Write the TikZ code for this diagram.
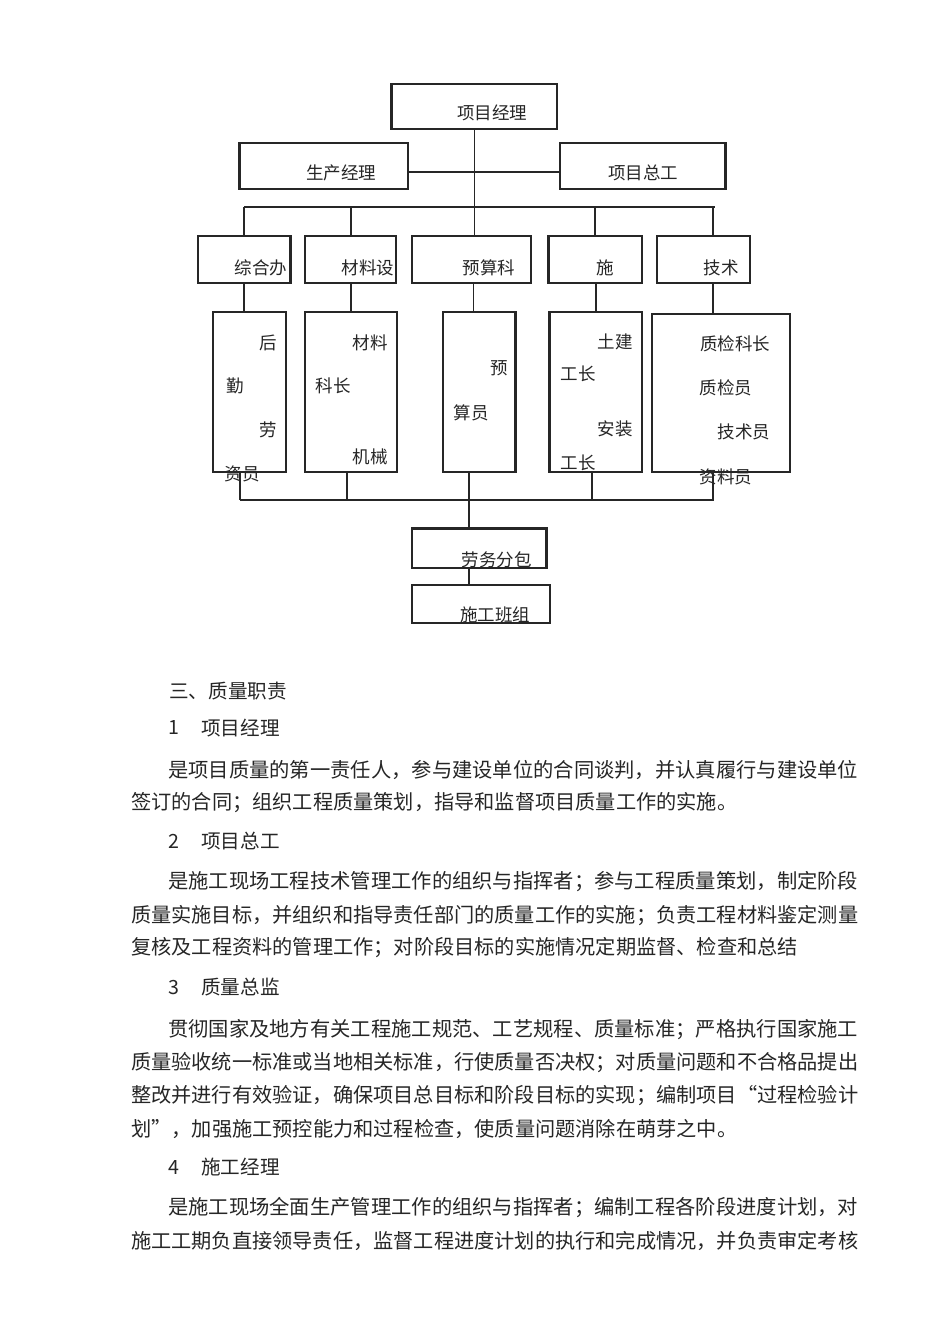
\documentclass[tikz,border=0pt]{standalone}
\usepackage{graphicx}
\usepackage{fontspec}
\setmainfont{Noto Sans CJK SC}
\newfontfamily\fwfont[RawFeature=+fwid]{Noto Sans CJK SC}
\definecolor{linec}{HTML}{262626}
\definecolor{txtc}{HTML}{262626}
\newcommand{\jline}[2]{\resizebox{#1}{\height}{#2}}
\tikzset{
  box/.style={draw=linec, line width=1.2pt, inner sep=0pt},
  thk/.style={draw=linec, line width=2.3pt},
  conn/.style={draw=linec, line width=1.2pt},
  lbl/.style={font=\fontsize{17.5}{17.5}\selectfont, text=txtc, inner sep=0pt},
  body/.style={font=\fontsize{20.2}{20.2}\selectfont, text=txtc, inner sep=0pt, anchor=west},
  head/.style={font=\fontsize{19.6}{19.6}\selectfont, text=txtc, inner sep=0pt, anchor=west},
}
\begin{document}
\begin{tikzpicture}[x=1pt,y=-1pt]
\path[use as bounding box, fill=white] (0,0) rectangle (950,1344);

% ---------- boxes ----------
\node[box, minimum width=165pt, minimum height=45pt] (pm) at (474.5,106.5) {};
\node[box, minimum width=168pt, minimum height=46pt] (sc) at (324,166) {};
\node[box, minimum width=165pt, minimum height=46pt] (zg) at (642.5,166) {};

\node[box, minimum width=92pt, minimum height=47pt] (zh) at (244,259.5) {};
\node[box, minimum width=91pt, minimum height=47pt] (cl) at (350.5,259.5) {};
\node[box, minimum width=119pt, minimum height=47pt] (ys) at (471.5,259.5) {};
\node[box, minimum width=93pt, minimum height=47pt] (sg) at (595.5,259.5) {};
\node[box, minimum width=93pt, minimum height=47pt] (js) at (703.5,259.5) {};

\node[box, minimum width=73pt, minimum height=160pt] (hq) at (249.5,392) {};
\node[box, minimum width=92pt, minimum height=160pt] (clk) at (351,392) {};
\node[box, minimum width=72pt, minimum height=160pt] (ysy) at (479,392) {};
\node[box, minimum width=92pt, minimum height=160pt] (gz) at (596,392) {};
\node[box, minimum width=138pt, minimum height=158pt] (zj) at (721,393) {};

\node[box, minimum width=134pt, minimum height=39pt] (lw) at (479,548.5) {};
\node[box, minimum width=138pt, minimum height=38pt] (bz) at (481,604) {};

% heavier edges as in the scan
\draw[thk] (pm.north west) -- (pm.south west);
\draw[thk] (sc.north west) -- (sc.south west);
\draw[thk] (zg.north east) -- (zg.south east);
\draw[thk] (zh.north east) -- (zh.south east);
\draw[thk] (sg.north west) -- (sg.south west);
\draw[thk] (ysy.north east) -- (ysy.south east);
\draw[thk] (gz.north west) -- (gz.south west);
\draw[thk] (lw.north west) -- (lw.north east) -- (lw.south east);

% ---------- connectors ----------
\coordinate (busL) at (244,207);
\coordinate (b2) at (351,207);
\coordinate (b4) at (595,207);
\coordinate (b5) at (713,207);
\coordinate (busR) at (715,207);
\draw[conn] (pm.south) -- (pm.south |- ys.north);
\draw[conn] ([yshift=-6pt]sc.east) -- ([yshift=-6pt]zg.west);
\draw[conn] (busL) -- (busR);
\draw[conn] (busL) -- (busL |- zh.north);
\draw[conn] (b2) -- (b2 |- cl.north);
\draw[conn] (b4) -- (b4 |- sg.north);
\draw[conn] (b5) -- (b5 |- js.north);

\draw[conn] (zh.south) -- (zh.south |- hq.north);
\draw[conn] (b2 |- cl.south) -- (b2 |- clk.north);
\draw[conn] ([xshift=-1pt]pm.south |- ys.south) -- ([xshift=-1pt]pm.south |- ysy.north);
\draw[conn] ([xshift=1pt]b4 |- sg.south) -- ([xshift=1pt]b4 |- gz.north);
\draw[conn] (b5 |- js.south) -- (b5 |- zj.north);

\coordinate (c1) at (240,500);
\coordinate (c2) at (347,500);
\coordinate (c3) at (469,500);
\coordinate (c4) at (592,500);
\coordinate (c5) at (713,500);
\draw[thk] (c1 |- hq.south) -- (c1);
\draw[conn] (c1) -- (c5) -- (c5 |- zj.south);
\draw[conn] (c2 |- clk.south) -- (c2);
\draw[conn] (c4 |- gz.south) -- (c4);
\draw[conn] (c3 |- ysy.south) -- (c3 |- lw.north);
\draw[conn] (c3 |- lw.south) -- (c3 |- bz.north);

% ---------- diagram labels ----------
\node[lbl] (tpm) at (492,113) {项目经理};
\node[lbl] (tsc) at (341,173) {生产经理};
\node[lbl] (tzg) at (643,173) {项目总工};

\node[lbl] (tzh) at (261,268) {综合办};
\node[lbl] (tcl) at (368,268) {材料设};
\node[lbl] (tys) at (489,268) {预算科};
\node[lbl] (tsg) at (605,268) {施};
\node[lbl] (tjs) at (721,268) {技术};

\node[lbl] (hq1) at (268,343) {后};
\node[lbl] (hq2) at (235,386) {勤};
\node[lbl] (hq3) at (268,430) {劳};
\node[lbl] (hq4) at (242,474) {资员};

\node[lbl] (cl1) at (370,343) {材料};
\node[lbl] (cl2) at (333,386) {科长};
\node[lbl] (cl3) at (370,457) {机械};

\node[lbl] (ys1) at (499,368) {预};
\node[lbl] (ys2) at (471,413) {算员};

\node[lbl] (gz1) at (615,342) {土建};
\node[lbl] (gz2) at (578,374) {工长};
\node[lbl] (gz3) at (615,429) {安装};
\node[lbl] (gz4) at (578,463) {工长};

\node[lbl] (zj1) at (735,344) {质检科长};
\node[lbl] (zj2) at (726,388) {质检员};
\node[lbl] (zj3) at (744,432) {技术员};
\node[lbl] (zj4) at (726,477) {资料员};

\node[lbl] (tlw) at (496.5,560) {劳务分包};
\node[lbl] (tbz) at (495,615) {施工班组};

% ---------- body text ----------
\node[head] (h0) at (169,691) {三、质量职责};
\node[head, anchor=center] (n1) at (174,728) {1};
\node[head] (h1) at (201,728) {项目经理};
\node[body] (p11) at (168,770) {\jline{690pt}{是项目质量的第一责任人，参与建设单位的合同谈判，并认真履行与建设单位}};
\node[body] (p12) at (131,803) {签订的合同；组织工程质量策划，指导和监督项目质量工作的实施。};

\node[head, anchor=center] (n2) at (174,841) {2};
\node[head] (h2) at (201,841) {项目总工};
\node[body] (p21) at (168,882) {\jline{690pt}{是施工现场工程技术管理工作的组织与指挥者；参与工程质量策划，制定阶段}};
\node[body] (p22) at (131,916) {\jline{727pt}{质量实施目标，并组织和指导责任部门的质量工作的实施；负责工程材料鉴定测量}};
\node[body] (p23) at (131,948) {复核及工程资料的管理工作；对阶段目标的实施情况定期监督、检查和总结};

\node[head, anchor=center] (n3) at (174,987) {3};
\node[head] (h3) at (201,987) {质量总监};
\node[body] (p31) at (168,1030) {\jline{690pt}{贯彻国家及地方有关工程施工规范、工艺规程、质量标准；严格执行国家施工}};
\node[body] (p32) at (131,1063) {\jline{727pt}{质量验收统一标准或当地相关标准，行使质量否决权；对质量问题和不合格品提出}};
\node[body] (p33) at (131,1096) {\jline{727pt}{整改并进行有效验证，确保项目总目标和阶段目标的实现；编制项目{\fwfont “}过程检验计}};
\node[body] (p34) at (131,1129) {划{\fwfont ”}，加强施工预控能力和过程检查，使质量问题消除在萌芽之中。};

\node[head, anchor=center] (n4) at (174,1167) {4};
\node[head] (h4) at (201,1167) {施工经理};
\node[body] (p41) at (168,1208) {\jline{690pt}{是施工现场全面生产管理工作的组织与指挥者；编制工程各阶段进度计划，对}};
\node[body] (p42) at (131,1241) {\jline{727pt}{施工工期负直接领导责任，监督工程进度计划的执行和完成情况，并负责审定考核}};
\end{tikzpicture}
\end{document}
